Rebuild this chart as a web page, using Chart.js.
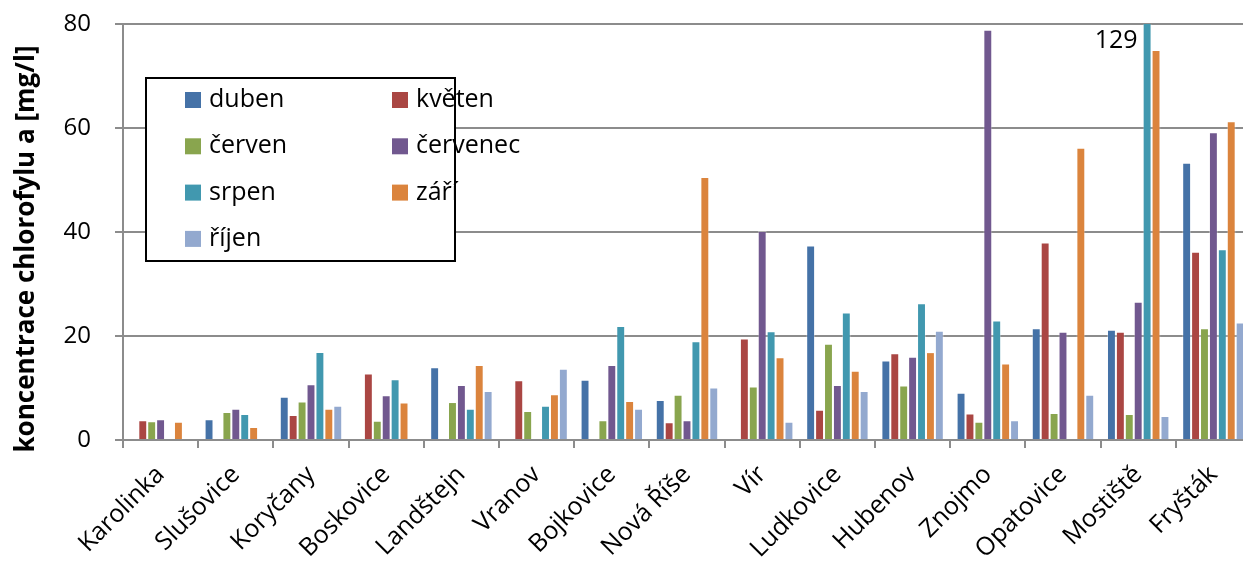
<!DOCTYPE html>
<html>
<head>
<meta charset="utf-8">
<script src="https://cdn.jsdelivr.net/npm/chart.js@4/dist/chart.umd.min.js"></script>
<style>
html,body{margin:0;padding:0;overflow:hidden;background:#fff;}
#wrap{width:1252px;height:561px;}
</style>
</head>
<body>
<div id="wrap"><canvas id="c" width="1252" height="561"></canvas></div>
<script>
const categories = ["Karolinka","Slušovice","Koryčany","Boskovice","Landštejn","Vranov","Bojkovice","Nová Říše","Vír","Ludkovice","Hubenov","Znojmo","Opatovice","Mostiště","Fryšták"];
const seriesNames = ["duben","květen","červen","červenec","srpen","září","říjen"];
const duben    = [null, 4.0, 8.3, null, 14.0, null, 11.6, 7.7, null, 37.4, 15.3, 9.1, 21.5, 21.2, 53.3];
const kveten   = [3.8, null, 4.8, 12.8, null, 11.5, null, 3.4, 19.5, 5.8, 16.7, 5.1, 38.0, 20.8, 36.2];
const cerven   = [3.6, 5.4, 7.4, 3.7, 7.3, 5.6, 3.8, 8.7, 10.3, 18.5, 10.5, 3.5, 5.2, 5.0, 21.5];
const cervenec = [4.0, 6.0, 10.7, 8.6, 10.6, null, 14.4, 3.8, 40.2, 10.6, 16.0, 78.9, 20.8, 26.6, 59.2];
const srpen    = [null, 5.0, 16.9, 11.7, 6.0, 6.6, 21.9, 19.0, 20.9, 24.5, 26.3, 23.0, null, 129, 36.7];
const zari     = [3.5, 2.5, 6.0, 7.2, 14.4, 8.8, 7.5, 50.6, 15.9, 13.3, 16.9, 14.7, 56.2, 75.0, 61.3];
const rijen    = [null, null, 6.6, null, 9.4, 13.7, 6.0, 10.1, 3.5, 9.4, 21.0, 3.8, 8.7, 4.6, 22.6];
const yTicks = [0, 20, 40, 60, 80];
const yTitle = "koncentrace chlorofylu a [mg/l]";

const seriesValues = [duben, kveten, cerven, cervenec, srpen, zari, rijen];
const colors = ["#4572A7","#AA4643","#89A54E","#71588F","#4198AF","#DB843D","#93A9CF"];
const FONT = "'Open Sans', sans-serif";

const datasets = seriesNames.map((n,i)=>({
  label:n, data:seriesValues[i], backgroundColor:colors[i],
  borderColor:'rgba(255,255,255,0.35)', borderWidth:1,
  categoryPercentage:0.83, barPercentage:1.0
}));

const overLabel = {
  id:'overLabel',
  afterDatasetsDraw(chart){
    const ctx = chart.ctx, ys = chart.scales.y;
    const max = ys.max;
    chart.data.datasets.forEach((ds,di)=>{
      const meta = chart.getDatasetMeta(di);
      ds.data.forEach((v,i)=>{
        if(v!=null && v>max){
          const bar = meta.data[i];
          ctx.save();
          ctx.font = "25px " + FONT;
          ctx.fillStyle = '#000';
          ctx.textAlign = 'right';
          ctx.textBaseline = 'middle';
          ctx.fillText(String(v), bar.x - bar.width/2 - 5, ys.getPixelForValue(max) + 17);
          ctx.restore();
        }
      });
    });
  }
};

const axisTitle = {
  id:'axisTitle',
  afterDraw(chart){
    const ctx = chart.ctx, a = chart.chartArea;
    ctx.save();
    ctx.translate(27, (a.top + a.bottom)/2 + 17);
    ctx.rotate(-Math.PI/2);
    ctx.font = "bold 26px " + FONT;
    ctx.fillStyle = '#000';
    ctx.textAlign = 'center';
    ctx.textBaseline = 'middle';
    ctx.fillText(yTitle, 0, 0);
    ctx.restore();
  }
};

const boxLegend = {
  id:'boxLegend',
  afterDraw(chart){
    const ctx = chart.ctx, a = chart.chartArea;
    const L = a.left + 23, T = a.top + 54, W = 309, H = 183;
    ctx.save();
    ctx.fillStyle = '#fff';
    ctx.fillRect(L, T, W, H);
    ctx.strokeStyle = '#000';
    ctx.lineWidth = 2;
    ctx.strokeRect(L, T, W, H);
    ctx.font = "25px " + FONT;
    ctx.textBaseline = 'middle';
    ctx.textAlign = 'left';
    chart.data.datasets.forEach((ds,i)=>{
      const col = i % 2, row = Math.floor(i/2);
      const sx = L + 39 + col*207;
      const cy = T + 22 + row*46.3;
      ctx.fillStyle = ds.backgroundColor;
      ctx.fillRect(sx, cy-8, 16, 16);
      ctx.fillStyle = '#000';
      ctx.fillText(ds.label, sx + 24, cy);
    });
    ctx.restore();
  }
};

new Chart(document.getElementById('c'), {
  type:'bar',
  data:{labels:categories, datasets},
  options:{
    responsive:false, animation:false,
    layout:{padding:{top:24, right:1, left:0, bottom:0}},
    plugins:{legend:{display:false}, tooltip:{enabled:false}},
    scales:{
      x:{
        grid:{display:true, drawOnChartArea:false, drawTicks:true, tickLength:8, offset:true, color:'#8c8c8c', lineWidth:2},
        border:{color:'#8c8c8c', width:2},
        ticks:{autoSkip:false, maxRotation:45, minRotation:45, color:'#000', font:{family:FONT, size:25}, padding:12},
        afterFit(s){ s.height = 121; s.paddingLeft = 0; s.paddingRight = 0; }
      },
      y:{
        min:0, max:80,
        afterBuildTicks(s){ s.ticks = yTicks.map(v=>({value:v})); },
        ticks:{color:'#000', font:{family:FONT, size:24}, padding:24},
        grid:{color:'#8c8c8c', lineWidth:2, tickLength:8},
        border:{color:'#8c8c8c', width:2},
        title:{display:false},
        afterFit(s){ s.width = 123; s.paddingTop = 0; s.paddingBottom = 0; }
      }
    }
  },
  plugins:[overLabel, boxLegend, axisTitle]
});
</script>
</body>
</html>
